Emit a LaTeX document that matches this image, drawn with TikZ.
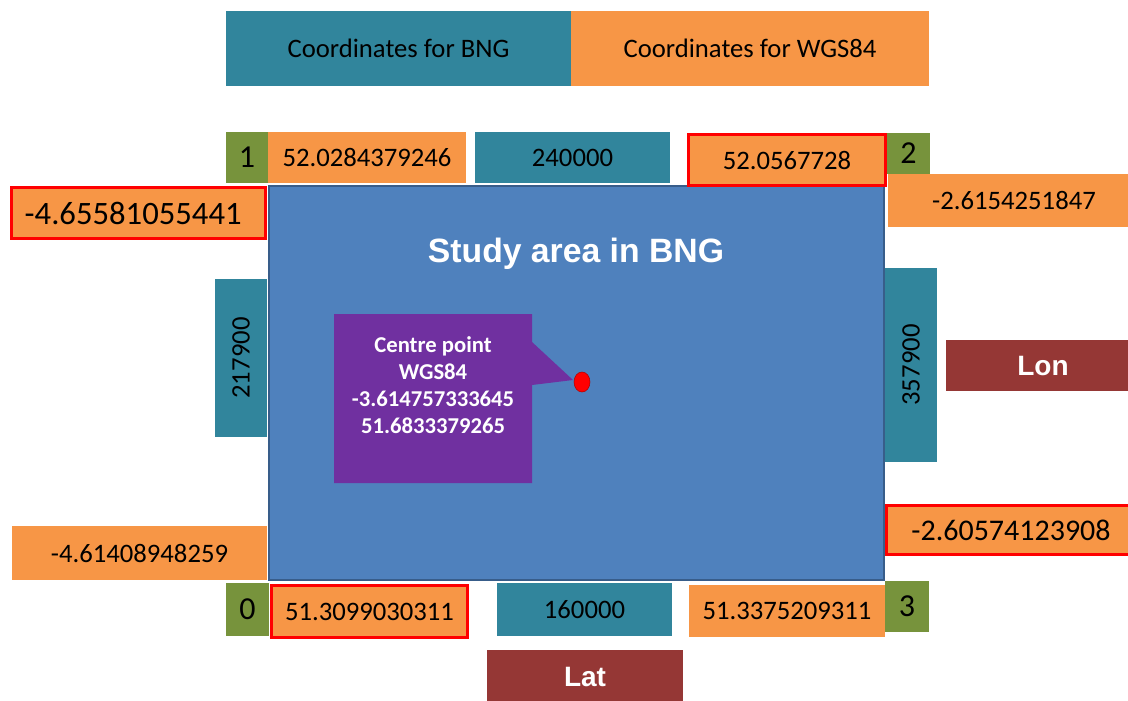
\documentclass[tikz,border=0pt]{standalone}
\usepackage{fontspec}
\usetikzlibrary{shapes.geometric}
\setmainfont{Carlito}
\newfontfamily\headfont{Liberation Sans}
\definecolor{tealbox}{HTML}{31859C}
\definecolor{orangebox}{HTML}{F79646}
\definecolor{greenbox}{HTML}{77933C}
\definecolor{redbrown}{HTML}{953735}
\definecolor{areablue}{HTML}{4F81BD}
\definecolor{areaedge}{HTML}{385D8A}
\definecolor{calloutpurple}{HTML}{7030A0}
\begin{document}
\begin{tikzpicture}[x=0.75pt,y=-0.75pt,
  box/.style={rectangle,inner sep=0pt,minimum width=#1*0.75pt},
  boxh/.style={minimum height=#1*0.75pt},
  bngbox/.style={box=#1,fill=tealbox,font=\fontsize{20}{24}\selectfont},
  wgsbox/.style={box=#1,fill=orangebox,font=\fontsize{20}{24}\selectfont},
  hibox/.style={wgsbox=#1,draw=red,line width=2.25pt},
  cornerbox/.style={box=#1,fill=greenbox,font=\fontsize{24}{28}\selectfont},
  axisbox/.style={box=#1,fill=redbrown,text=white,font=\headfont\bfseries\fontsize{21}{25}\selectfont}]
\useasboundingbox (0,0) rectangle (1128,700);
\fill[white] (0,0) rectangle (1128,700);

% legend
\node[bngbox=345,boxh=75] (hdrbng) at (398.5,48.5) {Coordinates for BNG};
\node[wgsbox=358,boxh=75] (hdrwgs) at (750,48.5) {Coordinates for WGS84};

% study area
\node[box=615,boxh=394,fill=areablue,draw=areaedge,line width=1.5pt] (area) at (576.5,383) {};
\node[text=white,font=\headfont\bfseries\fontsize{25.3}{30}\selectfont] (title) at (576,254) {Study area in BNG};

% top edge
\node[cornerbox=42,boxh=51] (c1) at (247,157.5) {1};
\node[wgsbox=198,boxh=51] (lat1) at (367,157.5) {52.0284379246};
\node[bngbox=195,boxh=51] (north) at (572.5,157.5) {240000};
\node[hibox=197,boxh=51] (lat2) at (787,160) {52.0567728};
\node[cornerbox=43,boxh=41] (c2) at (908.5,153.5) {2};
\node[wgsbox=252,boxh=53] (lon2) at (1014,200.5) {-2.6154251847};

% left edge
\node[hibox=254,boxh=51,font=\fontsize{24.5}{28}\selectfont] (lon1) at (138.5,213) {\hspace*{-8pt}-4.65581055441};
\node[bngbox=158,boxh=52,rotate=90] (west) at (241,358) {217900};
\node[wgsbox=255,boxh=54] (lon0) at (139.5,553) {-4.61408948259};

% bottom edge
\node[cornerbox=43,boxh=53] (c0) at (247.5,609.5) {0};
\node[hibox=196,boxh=52] (lat0) at (369.5,611.5) {51.3099030311};
\node[bngbox=175,boxh=53] (south) at (584.5,609.5) {160000};
\node[wgsbox=196,boxh=52] (lat3) at (787,611) {51.3375209311};
\node[cornerbox=44,boxh=51] (c3) at (907,606.5) {3};

% right edge
\node[bngbox=194,boxh=52,rotate=90] (east) at (911,365) {357900};
\node[hibox=250,boxh=49,font=\fontsize{22.5}{26}\selectfont] (lon3) at (1011,530) {-2.60574123908};

% axis labels
\node[axisbox=194,boxh=51] (lon) at (1043,365.5) {Lon};
\node[axisbox=196,boxh=54] (lat) at (585,677) {Lat};

% centre point callout
\fill[calloutpurple] (334,314) -- (532,314) -- (532,342) -- (573,380) -- (532,385)
  -- (532,483) -- (334,483) -- cycle;
\node[text=white,align=center,font=\bfseries\fontsize{17}{20.3}\selectfont] (centre) at (433,385)
  {Centre point\\WGS84\\-3.614757333645\\51.6833379265};
\node[ellipse,minimum width=16*0.75pt,minimum height=20*0.75pt,inner sep=0pt,
  fill=red,draw=red!70!black,line width=0.4pt] (dot) at (582,382) {};
\end{tikzpicture}
\end{document}
